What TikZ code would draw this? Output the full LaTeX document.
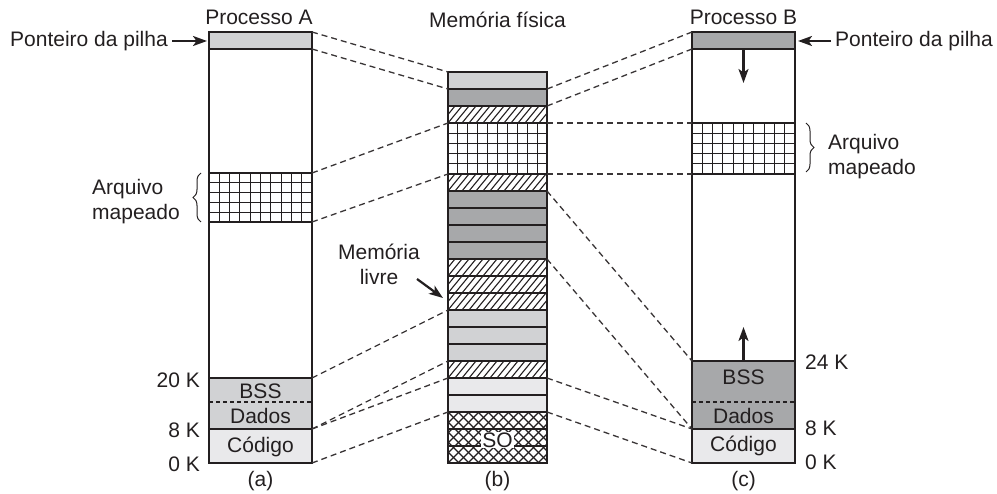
\documentclass[tikz,border=0pt]{standalone}
\usepackage{fontspec}
\setmainfont{Liberation Sans}
\usetikzlibrary{arrows.meta,decorations.pathreplacing}
\definecolor{lg}{HTML}{D1D2D4}
\definecolor{dg}{HTML}{A7A8AA}
\definecolor{vlg}{HTML}{E9E9EB}
\definecolor{ink}{HTML}{231F20}
\begin{document}
\begin{tikzpicture}[x=1pt,y=-1pt,
  font=\fontsize{21}{25}\selectfont,
  every node/.style={inner sep=0pt, text=ink},
  sep/.style={line width=2pt, draw=ink},
  thin grid/.style={line width=1.1pt, draw=ink},
  hatchline/.style={line width=1.1pt, draw=ink},
  conn/.style={line width=1.3pt, dash pattern=on 6pt off 4pt, draw=ink!90},
  inner dash/.style={line width=1.1pt, dash pattern=on 4pt off 3pt, draw=ink},
  ptr/.style={line width=2.2pt, draw=ink, -{Stealth[length=14pt,width=10pt,inset=3.5pt]}},
  brc/.style={decorate, decoration={brace, amplitude=8pt}, line width=1pt, draw=ink}]
\useasboundingbox (0,0) rectangle (997,494);

% ---------------- Memory (b) ----------------
\foreach \i/\c in {0/lg,1/dg,7/dg,8/dg,9/dg,10/dg,14/lg,15/lg,16/lg,18/vlg,19/vlg}
  \fill[\c] (448,{72+17*\i}) rectangle (547,{89+17*\i});
\foreach \i in {2,6,11,12,13,17}{
  \begin{scope}
    \clip (448,{72+17*\i}) rectangle (547,{89+17*\i});
    \foreach \k in {-3,...,15}
      \draw[hatchline] ({448+\k*7},{89+17*\i}) -- ++(14,-17);
  \end{scope}}
% grid (mapped file)
\foreach \k in {1,...,9}
  \draw[thin grid] ({448+\k*9.9},123) -- ({448+\k*9.9},174);
\foreach \k in {1,...,4}
  \draw[thin grid] (448,{123+\k*10.2}) -- (547,{123+\k*10.2});
% crosshatch (SO)
\begin{scope}
  \clip (448,412) rectangle (547,463);
  \foreach \k in {-6,...,16}{
    \draw[line width=1.4pt, draw=ink] ({448+\k*10},463) -- ++(51,-51);
    \draw[line width=1.4pt, draw=ink] ({448+\k*10},412) -- ++(51,51);}
\end{scope}
\foreach \i in {1,2,3,6,7,8,9,10,11,12,13,14,15,16,17,18,19,20,21,22}
  \draw[sep] (448,{72+17*\i}) -- (547,{72+17*\i});
\draw[sep] (448,72) rectangle (547,463);
\node[fill=white, inner xsep=1.5pt, inner ysep=1pt] (so) at (497.5,440) {SO};
\foreach \i in {0,1,2,3,6,7,11,14,17,18,20}{
  \coordinate (mL\i) at (448,{72+17*\i});
  \coordinate (mR\i) at (547,{72+17*\i});}

% ---------------- Process A ----------------
\fill[lg] (209,32) rectangle (312,49);
\fill[lg] (209,378) rectangle (312,429);
\fill[vlg] (209,429) rectangle (312,463);
\foreach \k in {1,...,9}
  \draw[thin grid] ({209+\k*10.3},173) -- ({209+\k*10.3},222);
\foreach \k in {1,...,4}
  \draw[thin grid] (209,{173+\k*9.8}) -- (312,{173+\k*9.8});
\draw[inner dash] (209,402) -- (312,402);
\foreach \y in {49,173,222,378,429}
  \draw[sep] (209,\y) -- (312,\y);
\draw[sep] (209,32) rectangle (312,463);
\coordinate (aT) at (312,32);
\coordinate (aS) at (312,49);
\coordinate (aMt) at (312,173);
\coordinate (aMb) at (312,222);
\coordinate (aB) at (312,378);
\coordinate (aD) at (312,429);
\coordinate (aZ) at (312,463);

\node (bssA) at (260.5,391) {BSS};
\node (dadA) at (260.5,416) {Dados};
\node (codA) at (260.5,447) {Código};

% ---------------- Process B ----------------
\fill[dg] (692,32) rectangle (795,49);
\fill[dg] (692,361) rectangle (795,429);
\fill[vlg] (692,429) rectangle (795,463);
\foreach \k in {1,...,9}
  \draw[thin grid] ({692+\k*10.3},123) -- ({692+\k*10.3},174);
\foreach \k in {1,...,4}
  \draw[thin grid] (692,{123+\k*10.2}) -- (795,{123+\k*10.2});
\draw[inner dash] (692,402) -- (795,402);
\foreach \y in {49,123,174,361,429}
  \draw[sep] (692,\y) -- (795,\y);
\draw[sep] (692,32) rectangle (795,463);
\coordinate (bT) at (692,32);
\coordinate (bS) at (692,49);
\coordinate (bMt) at (692,123);
\coordinate (bMb) at (692,174);
\coordinate (bB) at (692,361);
\coordinate (bD) at (692,429);
\coordinate (bZ) at (692,463);

\node (bssB) at (743.5,377) {BSS};
\node (dadB) at (743.5,416) {Dados};
\node (codB) at (743.5,446) {Código};

% ---------------- dashed connectors ----------------
\draw[conn] (aT) -- (mL0);
\draw[conn] (aS) -- (mL1);
\draw[conn] (aMt) -- (mL3);
\draw[conn] (aMb) -- (mL6);
\draw[conn] (aB) -- (mL14);
\draw[conn] (aD) -- (mL17);
\draw[conn] (aD) -- (mL18);
\draw[conn] (aZ) -- (mL20);
\draw[conn] (mR1) -- (bT);
\draw[conn] (mR2) -- (bS);
\draw[conn] (mR3) -- (bMt);
\draw[conn] (mR6) -- (bMb);
\draw[conn] (mR7) -- (bB);
\draw[conn] (mR11) -- (bD);
\draw[conn] (mR18) -- (bD);
\draw[conn] (mR20) -- (bZ);

% ---------------- labels ----------------
\node[anchor=base] (tA) at (259,25) {Processo A};
\node[anchor=base] (tM) at (497.5,28) {Memória física};
\node[anchor=base] (tB) at (743.5,25) {Processo B};

\node[anchor=east] (pA) at (168,41) {Ponteiro da pilha};
\coordinate (pAe) at (207,41);
\draw[ptr] (pA.east) ++(4,0) coordinate (pAs) -- (pAe);
\node[anchor=west] (pB) at (835,41) {Ponteiro da pilha};
\coordinate (pBe) at (798,41);
\draw[ptr] (pB.west) ++(-4,0) coordinate (pBs) -- (pBe);

\coordinate (bdS) at (743.5,49);
\coordinate (bdE) at (743.5,83);
\draw[ptr] (bdS) -- (bdE);
\coordinate (buS) at (743.5,361);
\coordinate (buE) at (743.5,327);
\draw[ptr] (buS) -- (buE);

\node[align=left, anchor=west] (mfA) at (92,202) {Arquivo\\mapeado};
\coordinate (brA1) at (201,222);
\coordinate (brA2) at (201,173);
\draw[brc] (brA1) -- (brA2);
\node[align=left, anchor=west] (mfB) at (828,157) {Arquivo\\mapeado};
\coordinate (brB1) at (806,123);
\coordinate (brB2) at (806,172);
\draw[brc] (brB1) -- (brB2);

\node[align=center] (livre) at (379,264) {Memória\\livre};
\coordinate (lvS) at (417,279);
\coordinate (lvE) at (443,298);
\draw[ptr] (lvS) -- (lvE);

\node[anchor=east] (k20) at (200,380) {20 K};
\node[anchor=east] (k8a) at (200,430) {8 K};
\node[anchor=east] (k0a) at (200,464) {0 K};
\node[anchor=west] (k24) at (805,362) {24 K};
\node[anchor=west] (k8b) at (805,428) {8 K};
\node[anchor=west] (k0b) at (805,462) {0 K};

\node (capa) at (260.5,481) {(a)};
\node (capb) at (497.5,481) {(b)};
\node (capc) at (743.5,481) {(c)};
\end{tikzpicture}
\end{document}
